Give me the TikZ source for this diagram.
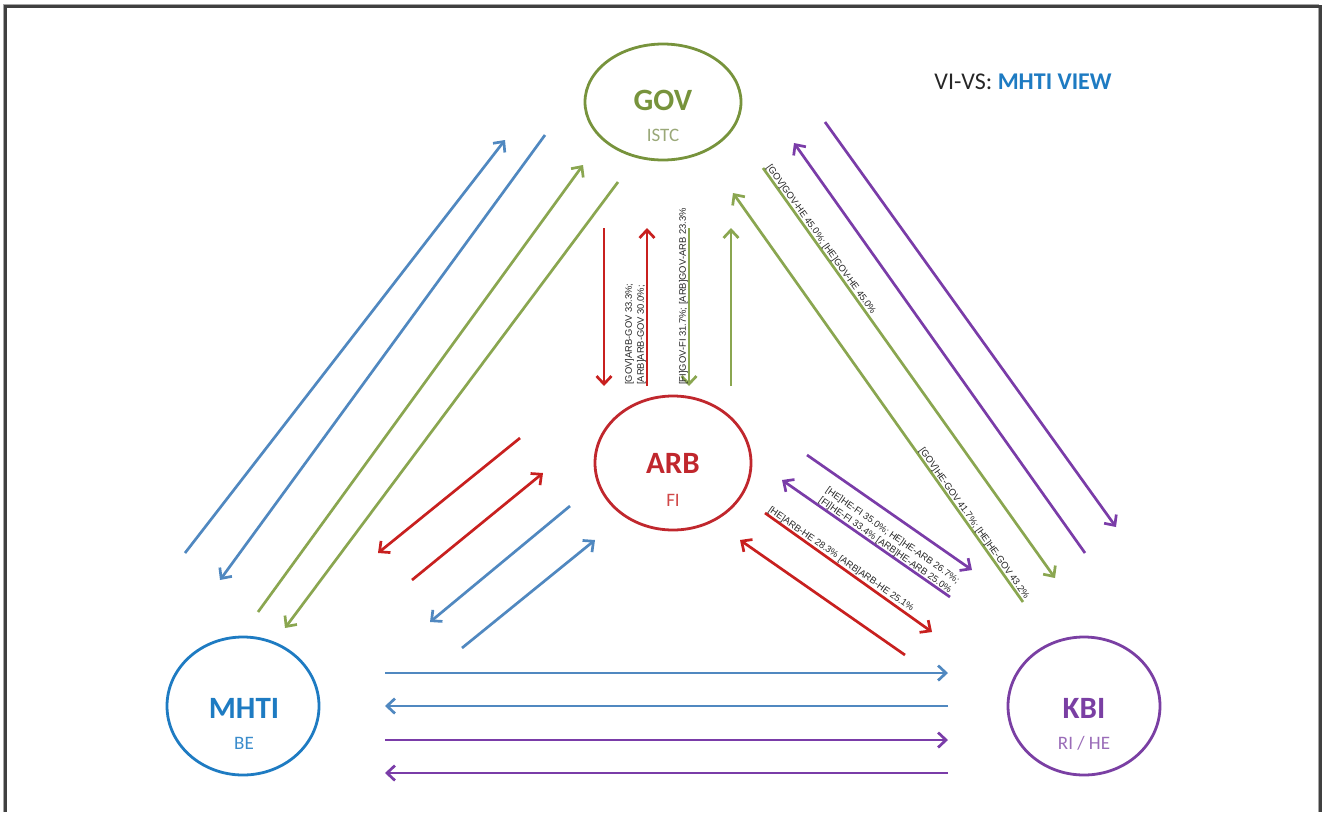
\documentclass[tikz,border=0pt]{standalone}
\usepackage{fontspec}
\setmainfont{Carlito}
\newfontfamily\labelfont{Liberation Sans}
\usetikzlibrary{arrows.meta,shapes.geometric,calc}

\definecolor{govgreen}{HTML}{77933C}
\definecolor{govsub}{HTML}{9AA878}
\definecolor{arrgreen}{HTML}{8AA650}
\definecolor{mhtiblue}{HTML}{1E7BC2}
\definecolor{mhtisub}{HTML}{3A8CCB}
\definecolor{arrblue}{HTML}{5088C0}
\definecolor{arbred}{HTML}{C0272D}
\definecolor{arbsub}{HTML}{D04848}
\definecolor{arrred}{HTML}{C8201F}
\definecolor{kbipurple}{HTML}{7A3FA3}
\definecolor{kbisub}{HTML}{9A6CB8}
\definecolor{arrpurple}{HTML}{7A3CA8}
\definecolor{labelgrey}{HTML}{262626}

\tikzset{
  ent/.style={ellipse, draw, line width=2.8pt, inner sep=0pt},
  entname/.style={font=\fontsize{31}{31}\selectfont\bfseries, inner sep=0pt},
  entsub/.style={font=\fontsize{19}{19}\selectfont, inner sep=0pt},
  flow/.style={line width=2.7pt, -{Straight Barb[length=8pt,width=15pt]}},
  pct/.style={font=\labelfont\fontsize{9.4}{12}\selectfont, text=labelgrey,
              inner sep=1pt, align=left},
}

\begin{document}
\begin{tikzpicture}[x=1pt,y=-1pt]
\useasboundingbox (0,0) rectangle (1322,812);

% outer frame (open at the bottom)
\draw[line width=1pt, black!35] (3,812) -- (3,4) -- (1318,4) -- (1318,812);
\draw[line width=3pt, black!75] (5.5,812) -- (5.5,6) -- (1320,6) -- (1320,812);

% title
\node[font=\fontsize{24}{24}\selectfont, inner sep=0pt] (title) at (1023,82)
  {\textcolor{black!85}{VI-VS:} \textcolor{mhtiblue}{\bfseries MHTI VIEW}};

% entities
\node[ent, draw=govgreen, minimum width=156pt, minimum height=116pt] (gov) at (663,102) {};
\node[entname, text=govgreen] (govn) at (663,100) {GOV};
\node[entsub, text=govsub] (govs) at (663,135) {ISTC};

\node[ent, draw=arbred, minimum width=156pt, minimum height=134pt] (arb) at (673,463) {};
\node[entname, text=arbred] (arbn) at (673,463) {ARB};
\node[entsub, text=arbsub] (arbs) at (673,500) {FI};

\node[ent, draw=mhtiblue, minimum width=152pt, minimum height=138pt] (mhti) at (243,706) {};
\node[entname, text=mhtiblue] (mhtin) at (244,708) {MHTI};
\node[entsub, text=mhtisub] (mhtis) at (244,743) {BE};

\node[ent, draw=kbipurple, minimum width=152pt, minimum height=138pt] (kbi) at (1084,706) {};
\node[entname, text=kbipurple] (kbin) at (1084,708) {KBI};
\node[entsub, text=kbisub] (kbis) at (1084,743) {RI / HE};

% connector end points
\coordinate (bla) at (185,553);  \coordinate (blb) at (505,140);
\coordinate (bca) at (545,135);  \coordinate (bcb) at (220,580);
\coordinate (gla) at (258,612);  \coordinate (glb) at (583,165);
\coordinate (gca) at (618,182);  \coordinate (gcb) at (285,628);

\coordinate (rva) at (604,228);  \coordinate (rvb) at (604,386);
\coordinate (rua) at (647,386);  \coordinate (rub) at (647,228);
\coordinate (gva) at (689,228);  \coordinate (gvb) at (689,386);
\coordinate (gua) at (731,386);  \coordinate (gub) at (731,228);

\coordinate (gra) at (763,168);  \coordinate (grb) at (1055,578);
\coordinate (gsa) at (1023,602); \coordinate (gsb) at (733,193);
\coordinate (pra) at (1085,553); \coordinate (prb) at (794,143);
\coordinate (psa) at (825,122);  \coordinate (psb) at (1116,527);

\coordinate (rla) at (520,438);  \coordinate (rlb) at (378,553);
\coordinate (rma) at (412,580);  \coordinate (rmb) at (543,473);
\coordinate (bma) at (570,506);  \coordinate (bmb) at (430,622);
\coordinate (bna) at (462,648);  \coordinate (bnb) at (595,540);

\coordinate (qa) at (807,455);   \coordinate (qb) at (972,570);
\coordinate (qc) at (950,597);   \coordinate (qd) at (782,480);
\coordinate (sa) at (765,513);   \coordinate (sb) at (932,632);
\coordinate (sc) at (905,655);   \coordinate (sd) at (740,540);

\coordinate (ha) at (385,673);   \coordinate (hb) at (948,673);
\coordinate (hc) at (948,706);   \coordinate (hd) at (385,706);
\coordinate (he) at (385,740);   \coordinate (hf) at (948,740);
\coordinate (hg) at (948,773);   \coordinate (hh) at (385,773);

% MHTI -- GOV
\draw[flow, arrblue] (bla) -- (blb);
\draw[flow, arrblue] (bca) -- (bcb);
\draw[flow, arrgreen] (gla) -- (glb);
\draw[flow, arrgreen] (gca) -- (gcb);

% GOV -- ARB
\draw[flow, arrred] (rva) -- (rvb);
\draw[flow, arrred] (rua) -- (rub);
\draw[flow, arrgreen] (gva) -- (gvb);
\draw[flow, arrgreen] (gua) -- (gub);
\node[pct, rotate=90, anchor=south west] (lblarbgov) at (rua)
  {[GOV]ARB-GOV 33.3\%;\\{}[ARB]ARB-GOV 30.0\%;};
\node[pct, rotate=90, anchor=south west] (lblgovarb) at (gvb)
  {[FI]GOV-FI 31.7\%; [ARB]GOV-ARB 23.3\%};

% GOV -- KBI
\draw[flow, arrgreen] (gra) -- (grb);
\draw[flow, arrgreen] (gsa) -- (gsb);
\draw[flow, arrpurple] (pra) -- (prb);
\draw[flow, arrpurple] (psa) -- (psb);
\node[pct, rotate=-54.5, anchor=south west] (lblgovhe) at (gra)
  {[GOV]GOV-HE 45.0\%; [HE]GOV-HE 45.0\%};
\node[pct, rotate=-54.5, anchor=south east] (lblhegov) at (gsa)
  {[GOV]HE-GOV 41.7\%; [HE]HE-GOV 43.2\%};

% ARB -- MHTI
\draw[flow, arrred] (rla) -- (rlb);
\draw[flow, arrred] (rma) -- (rmb);
\draw[flow, arrblue] (bma) -- (bmb);
\draw[flow, arrblue] (bna) -- (bnb);

% ARB -- KBI
\draw[flow, arrpurple] (qa) -- (qb);
\draw[flow, arrpurple] (qc) -- (qd);
\draw[flow, arrred] (sa) -- (sb);
\draw[flow, arrred] (sc) -- (sd);
\node[pct, rotate=-35, anchor=south west] (lblhefi) at ($(qd)!0.2!(qc)$)
  {[HE]HE-FI 35.0\%; HE]HE-ARB 26.7\%;\\{}[FI]HE-FI 33.4\% [ARB]HE-ARB 25.0\%};
\node[pct, rotate=-35, anchor=south west] (lblarbhe) at (sa)
  {[HE]ARB-HE 28.3\% [ARB]ARB-HE 25.1\%};

% MHTI -- KBI
\draw[flow, arrblue] (ha) -- (hb);
\draw[flow, arrblue] (hc) -- (hd);
\draw[flow, arrpurple] (he) -- (hf);
\draw[flow, arrpurple] (hg) -- (hh);
\end{tikzpicture}
\end{document}
